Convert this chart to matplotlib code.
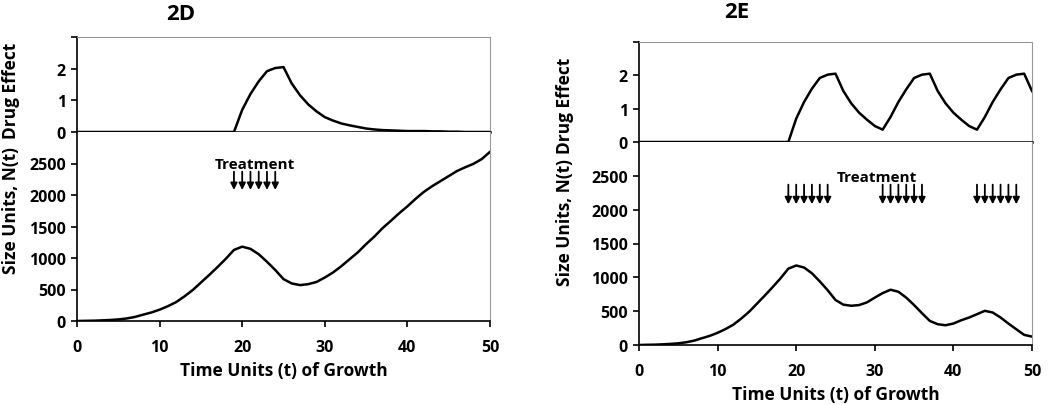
import matplotlib
matplotlib.use("Agg")
import matplotlib.pyplot as plt

plt.rcParams['font.family'] = ['Open Sans', 'DejaVu Sans']
plt.rcParams['font.weight'] = 'bold'

# time axis
t = list(range(0, 51))

# 2D: single treatment course
drug_2d = [0]*20 + [0.70, 1.20, 1.60, 1.92, 2.02, 2.05, 1.53, 1.16, 0.87, 0.65,
                    0.47, 0.36, 0.27, 0.21, 0.16, 0.11, 0.08, 0.06, 0.05, 0.04,
                    0.03, 0.03, 0.03, 0.02, 0.02, 0.01, 0.01, 0.0, 0.0, 0.0, 0.0]
size_2d = [0, 3, 5, 10, 16, 25, 40, 64, 100, 135, 180, 235, 300, 390, 490, 610,
           730, 855, 985, 1128, 1180, 1145, 1060, 940, 810, 665, 596, 570, 585,
           620, 690, 770, 870, 980, 1090, 1220, 1340, 1475, 1590, 1710, 1820,
           1940, 2050, 2140, 2220, 2300, 2380, 2440, 2495, 2570, 2685]
treat_2d = [19, 20, 21, 22, 23, 24]

# 2E: three treatment courses
drug_2e = [0]*20 + [0.70, 1.20, 1.60, 1.92, 2.02, 2.05, 1.53, 1.16, 0.88, 0.67,
                    0.48, 0.37, 0.75, 1.20, 1.58, 1.92, 2.02, 2.05, 1.53, 1.16,
                    0.88, 0.67, 0.48, 0.37, 0.75, 1.20, 1.58, 1.92, 2.02, 2.05, 1.53]
size_2e = [0, 3, 5, 10, 16, 25, 40, 64, 100, 135, 180, 235, 300, 390, 490, 610,
           730, 855, 985, 1128, 1175, 1145, 1060, 940, 810, 665, 596, 580, 590,
           630, 700, 767, 817, 787, 700, 590, 470, 356, 307, 292, 317, 366, 406,
           455, 505, 480, 406, 317, 233, 150, 124]
treat_2e = [19, 20, 21, 22, 23, 24, 31, 32, 33, 34, 35, 36, 43, 44, 45, 46, 47, 48]

size_ticks = [0, 500, 1000, 1500, 2000, 2500]
drug_ticks = [0, 1, 2, 3]
x_ticks = [0, 10, 20, 30, 40, 50]

fig = plt.figure(figsize=(10.5, 4.06), dpi=100)


def panel(left, width, top, mid, bottom, drug, size, treat, text_x, title, title_pos, lab_x, drug_lab_y, size_lab_y):
    ax_d = fig.add_axes([left, mid, width, top - mid])
    ax_s = fig.add_axes([left, bottom, width, mid - bottom])

    ax_d.plot(t, drug, color='black', lw=1.8)
    ax_d.set_xlim(0, 50)
    ax_d.set_ylim(0, 3)
    ax_d.set_yticks(drug_ticks)
    ax_d.set_yticklabels(['0', '1', '2', ''])
    ax_d.set_xticks([])
    ax_d.spines['top'].set_color('#999999')
    ax_d.spines['right'].set_color('#999999')
    ax_d.spines['bottom'].set_linewidth(1.8)
    ax_d.spines['left'].set_linewidth(1.2)

    ax_s.plot(t, size, color='black', lw=1.8)
    ax_s.set_xlim(0, 50)
    ax_s.set_ylim(0, 3000)
    ax_s.set_yticks(size_ticks)
    ax_s.set_xticks(x_ticks)
    ax_s.spines['top'].set_visible(False)
    ax_s.spines['right'].set_color('#999999')
    ax_s.spines['left'].set_linewidth(1.2)
    ax_s.spines['bottom'].set_linewidth(1.2)
    ax_s.set_xlabel('Time Units (t) of Growth', fontsize=12.5, fontweight='bold', labelpad=4)

    for ax in (ax_d, ax_s):
        ax.tick_params(direction='out', length=4, width=1.2, labelsize=11.5, pad=4)
        for lab in ax.get_xticklabels() + ax.get_yticklabels():
            lab.set_fontweight('bold')
    ax_s.tick_params(axis='x', pad=9)

    for tt in treat:
        ax_s.annotate('', xy=(tt, 2080), xytext=(tt, 2370),
                      arrowprops=dict(arrowstyle='-|>', color='black', lw=1.3,
                                      mutation_scale=10, shrinkA=0, shrinkB=0))
    ax_s.text(text_x, 2490, 'Treatment', ha='center', va='center', fontsize=11, fontweight='bold')

    fig.text(title_pos[0], title_pos[1], title, ha='center', va='center', fontsize=16, fontweight='bold')
    fig.text(lab_x, drug_lab_y, 'Drug Effect', rotation=90, ha='center', va='center', fontsize=12.5, fontweight='bold')
    fig.text(lab_x, size_lab_y, 'Size Units, N(t)', rotation=90, ha='center', va='center', fontsize=12.5, fontweight='bold')


panel(77/1050, 413/1050, 1 - 38/406, 1 - 133/406, 1 - 322/406,
      drug_2d, size_2d, treat_2d, 21.5, '2D', (181/1050, 1 - 14/406),
      11/1050, 1 - 91/406, 1 - 211/406)
panel(639/1050, 393/1050, 1 - 43/406, 1 - 143/406, 1 - 346/406,
      drug_2e, size_2e, treat_2e, 30.3, '2E', (737/1050, 1 - 13/406),
      565/1050, 1 - 106/406, 1 - 222/406)

fig.savefig('out.png', dpi=100)
